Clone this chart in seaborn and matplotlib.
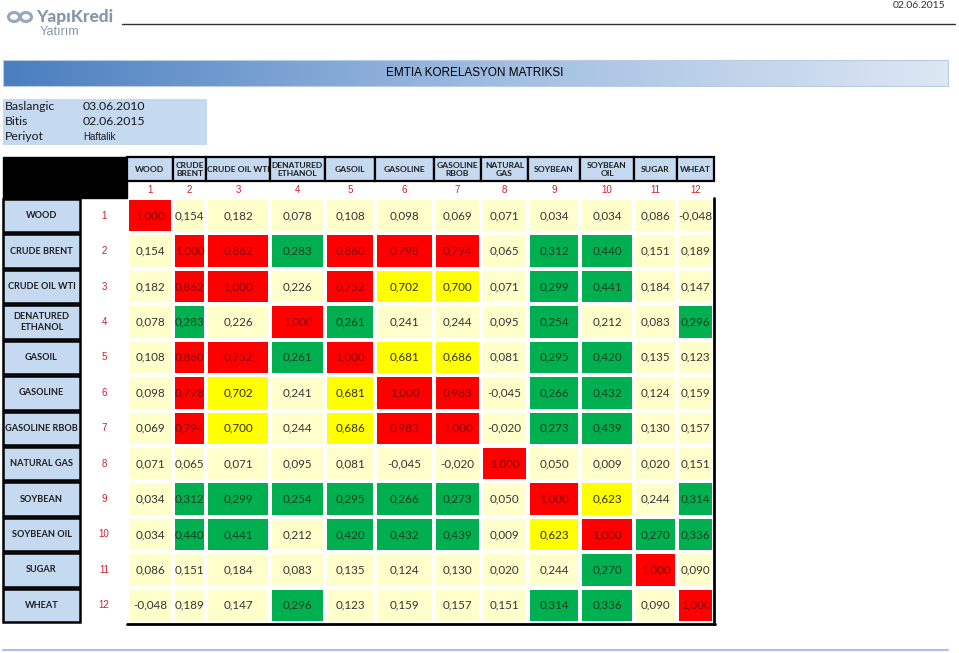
import matplotlib
matplotlib.use("Agg")
import matplotlib.pyplot as plt
import numpy as np
import seaborn as sns
from matplotlib.colors import ListedColormap, LinearSegmentedColormap
from matplotlib.patches import Rectangle, Ellipse

# ---- data -------------------------------------------------------------
col_headers = ["WOOD", "CRUDE\nBRENT", "CRUDE OIL WTI", "DENATURED\nETHANOL", "GASOIL",
               "GASOLINE", "GASOLINE\nRBOB", "NATURAL\nGAS", "SOYBEAN", "SOYBEAN\nOIL",
               "SUGAR", "WHEAT"]
row_headers = ["WOOD", "CRUDE BRENT", "CRUDE OIL WTI", "DENATURED\nETHANOL", "GASOIL",
               "GASOLINE", "GASOLINE RBOB", "NATURAL GAS", "SOYBEAN", "SOYBEAN OIL",
               "SUGAR", "WHEAT"]
numbers = list(range(1, 13))

corr = [
    [1.000, 0.154, 0.182, 0.078, 0.108, 0.098, 0.069, 0.071, 0.034, 0.034, 0.086, -0.048],
    [0.154, 1.000, 0.862, 0.283, 0.860, 0.798, 0.794, 0.065, 0.312, 0.440, 0.151, 0.189],
    [0.182, 0.862, 1.000, 0.226, 0.752, 0.702, 0.700, 0.071, 0.299, 0.441, 0.184, 0.147],
    [0.078, 0.283, 0.226, 1.000, 0.261, 0.241, 0.244, 0.095, 0.254, 0.212, 0.083, 0.296],
    [0.108, 0.860, 0.752, 0.261, 1.000, 0.681, 0.686, 0.081, 0.295, 0.420, 0.135, 0.123],
    [0.098, 0.798, 0.702, 0.241, 0.681, 1.000, 0.983, -0.045, 0.266, 0.432, 0.124, 0.159],
    [0.069, 0.794, 0.700, 0.244, 0.686, 0.983, 1.000, -0.020, 0.273, 0.439, 0.130, 0.157],
    [0.071, 0.065, 0.071, 0.095, 0.081, -0.045, -0.020, 1.000, 0.050, 0.009, 0.020, 0.151],
    [0.034, 0.312, 0.299, 0.254, 0.295, 0.266, 0.273, 0.050, 1.000, 0.623, 0.244, 0.314],
    [0.034, 0.440, 0.441, 0.212, 0.420, 0.432, 0.439, 0.009, 0.623, 1.000, 0.270, 0.336],
    [0.086, 0.151, 0.184, 0.083, 0.135, 0.124, 0.130, 0.020, 0.244, 0.270, 1.000, 0.090],
    [-0.048, 0.189, 0.147, 0.296, 0.123, 0.159, 0.157, 0.151, 0.314, 0.336, 0.090, 1.000],
]
thresholds = [0.25, 0.6, 0.75]

info_labels = ["Baslangic", "Bitis", "Periyot"]
info_values = ["03.06.2010", "02.06.2015", "Haftalik"]
report_date = "02.06.2015"
title = "EMTIA KORELASYON MATRIKSI"

# ---- styling ----------------------------------------------------------
sns.set_theme(style="white")
plt.rcParams["font.family"] = ["Lato", "DejaVu Sans"]

W, H = 959, 653
fig = plt.figure(figsize=(W / 100, H / 100), dpi=100)
fig.patch.set_facecolor("white")

fill_colors = ["#ffffcc", "#00b050", "#ffff00", "#ff0000"]
text_colors = ["#333333", "#173d1e", "#333300", "#8b0000"]
cmap = ListedColormap(fill_colors)

mat = np.array(corr)
cat = np.digitize(mat, thresholds)
labels = np.vectorize(lambda v: f"{v:.3f}".replace(".", ","))(mat)

col_edges = [127, 173, 206, 270, 325, 375, 434, 481, 528, 580, 634, 677, 714]
top, bottom = 198, 623
row_h = (bottom - top) / 12

def fx(x):
    return x / W

def fy(y):
    return 1 - y / H

# one heatmap per column so the columns can have their own widths
for j in range(12):
    x0, x1 = col_edges[j], col_edges[j + 1]
    ax = fig.add_axes([fx(x0), fy(bottom), (x1 - x0) / W, (bottom - top) / H])
    sns.heatmap(cat[:, [j]], ax=ax, cmap=cmap, vmin=-0.5, vmax=3.5,
                annot=labels[:, [j]], fmt="", cbar=False,
                linewidths=1.5, linecolor="white",
                xticklabels=False, yticklabels=False,
                annot_kws={"fontsize": 8.4, "family": ["Lato", "DejaVu Sans"]})
    for i, t in enumerate(ax.texts):
        t.set_color(text_colors[cat[i, j]])

# ---- decorations (overlay in pixel coordinates) ------------------------
ov = fig.add_axes([0, 0, 1, 1])
ov.set_facecolor("none")

# banner gradient
grad = LinearSegmentedColormap.from_list("banner", ["#4a7ebf", "#9dbbe0", "#dde7f3"])
ov.imshow(np.linspace(0, 1, 256)[None, :], cmap=grad, aspect="auto",
          extent=(3, 948, 86, 60), zorder=1)
ov.add_patch(Rectangle((3, 60), 945, 26, fill=False, ec="#b8cce4", lw=0.8, zorder=2))
ov.text(475, 73, title, ha="center", va="center", fontsize=8.5,
        family=["Liberation Sans"], color="black", zorder=3)

# header line + date + logo
ov.plot([122, 955], [24, 24], color="#333333", lw=1)
ov.text(945, 5, report_date, ha="right", va="center", fontsize=7.5, color="#333333")
ov.add_patch(Ellipse((14, 17), 11, 9, fill=False, ec="#9aa7b8", lw=2.2))
ov.add_patch(Ellipse((26, 17), 11, 9, fill=False, ec="#9aa7b8", lw=2.2))
ov.text(36, 17, "YapıKredi", ha="left", va="center", fontsize=12.5,
        fontweight="black", color="#8796ab")
ov.text(40, 32, "Yatırım", ha="left", va="center", fontsize=9, color="#8796ab",
        family=["Liberation Sans"])

# info box
ov.add_patch(Rectangle((3, 99), 204, 46, fc="#c5d9f1", ec="none"))
for k, (lab, val) in enumerate(zip(info_labels, info_values)):
    y = 106 + k * 15.5
    ov.text(5, y, lab, ha="left", va="center", fontsize=8.8, color="#1a1a1a")
    if k < 2:
        ov.text(83, y, val, ha="left", va="center", fontsize=8.8, color="#1a1a1a")
    else:
        ov.text(83, y, val, ha="left", va="center", fontsize=7,
                color="#1a1a1a", family=["Liberation Sans"])

# header block
ov.add_patch(Rectangle((3, 157), 124, 41, fc="black", ec="black"))
for j in range(12):
    x0, x1 = col_edges[j], col_edges[j + 1]
    ov.add_patch(Rectangle((x0, 157), x1 - x0, 24, fc="#c5d9f1", ec="black", lw=1.6))
    ov.text((x0 + x1) / 2, 169.5, col_headers[j], ha="center", va="center",
            fontsize=6.1, fontweight="bold", color="#1f1f1f", linespacing=1.05)
    ov.text((x0 + x1) / 2, 190, str(numbers[j]), ha="center", va="center",
            fontsize=7, color="#d0202a", family=["Liberation Sans"])

# row labels
for i in range(12):
    y0 = top + i * row_h
    ov.add_patch(Rectangle((3, y0 + 1), 77, row_h - 2, fc="#c5d9f1", ec="black", lw=1.8))
    ov.text(41.5, y0 + row_h / 2, row_headers[i], ha="center", va="center",
            fontsize=6.6, fontweight="bold", color="#1f1f1f", linespacing=1.35)
    ov.text(104, y0 + row_h / 2, str(numbers[i]), ha="center", va="center",
            fontsize=7, color="#d0202a", family=["Liberation Sans"])

# table borders
ov.plot([714, 714], [198, 624], color="black", lw=2)
ov.plot([127, 715], [623.5, 623.5], color="black", lw=2)

# bottom rule
ov.plot([3, 948], [650, 650], color="#a9c3e6", lw=1.5)

ov.set_xlim(0, W)
ov.set_ylim(H, 0)
ov.axis("off")

fig.savefig("out.png", dpi=100)
